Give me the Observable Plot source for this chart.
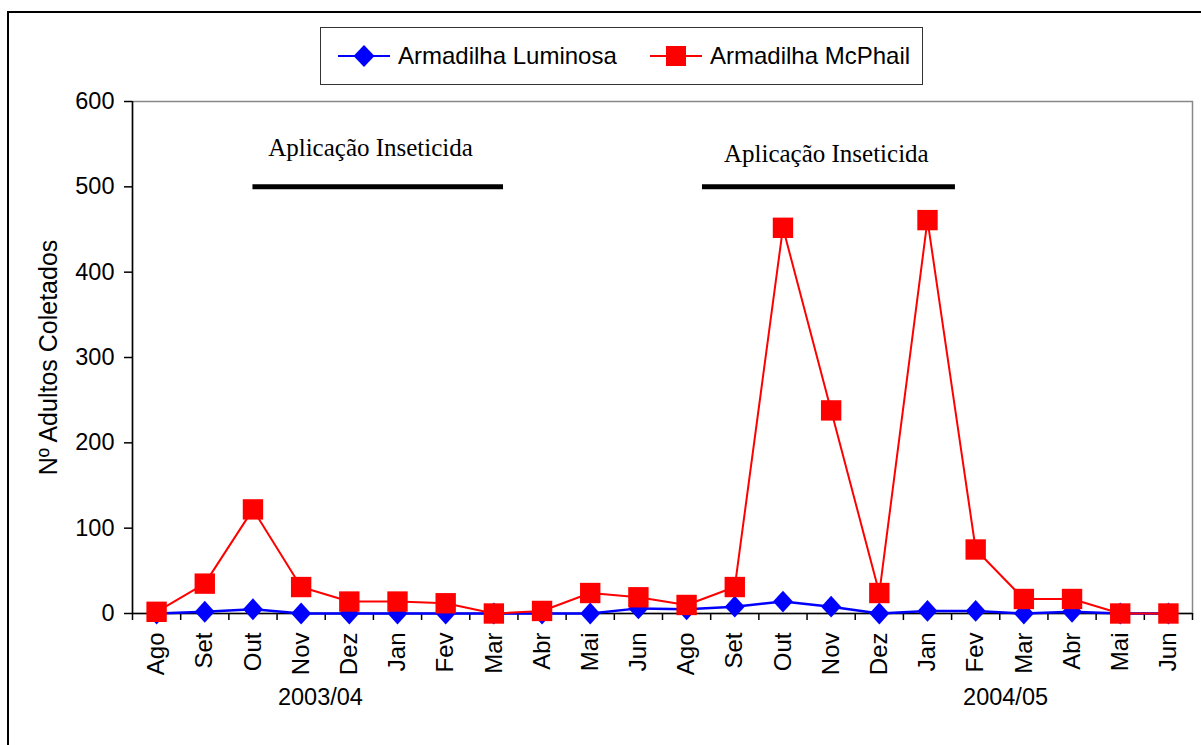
<!DOCTYPE html>
<html>
<head>
<meta charset="utf-8">
<script src="https://cdn.jsdelivr.net/npm/d3@7"></script>
<script src="https://cdn.jsdelivr.net/npm/@observablehq/plot@0.6"></script>
<style>
  html, body { margin: 0; padding: 0; background: #fff; }
  #wrap { position: relative; width: 1201px; height: 745px; overflow: hidden; background: #fff; }
  #border { position: absolute; left: 7px; top: 11px; width: 1400px; height: 900px; border: 2px solid #000; box-sizing: border-box; }
  #chart { position: absolute; left: 0; top: 0; }
  #legend { position: absolute; left: 320px; top: 27px; width: 603px; height: 58px; border: 1.5px solid #333; box-sizing: border-box; background: #fff;
            font-family: 'Liberation Sans', Arial, sans-serif; font-size: 24px; color: #000; }
  .item { position: absolute; top: 0; height: 100%; display: flex; align-items: center; }
  .item svg { display: block; }
  .item span { margin-left: 8px; white-space: nowrap; }
</style>
</head>
<body>
<div id="wrap">
  <div id="border"></div>
  <div id="chart"></div>
  <div id="legend"></div>
</div>
<script>
// ---- data ----
const months = ["Ago","Set","Out","Nov","Dez","Jan","Fev","Mar","Abr","Mai","Jun",
                "Ago","Set","Out","Nov","Dez","Jan","Fev","Mar","Abr","Mai","Jun"];
const luminosa = [0, 2, 5, 0, 0, 0, 0, 0, 0, 0, 6,
                  5, 8, 14, 8, 0, 3, 3, 0, 2, 0, 0];
const mcphail  = [2, 35, 122, 31, 14, 14, 12, 0, 3, 24, 19,
                  10, 31, 452, 238, 24, 461, 75, 17, 17, 0, 0];
const seriesNames = ["Armadilha Luminosa", "Armadilha McPhail"];
const yTicks = [0, 100, 200, 300, 400, 500, 600];
const seasonLabels = ["2003/04", "2004/05"];
const seasonAt = [3.4, 17.62];
const applicationLabel = "Aplicação Inseticida";
const applicationStart = [2.0, 11.33];
const applicationEnd = [7.2, 16.58];
const applicationLevel = [500, 500];
const applicationTextAt = [4.44, 13.9];
const applicationTextLevel = [545, 538];
const yLabel = "Nº Adultos Coletados";

// ---- derived tables ----
const lumData = months.map((m, i) => ({i, v: luminosa[i]}));
const mcpData = months.map((m, i) => ({i, v: mcphail[i]}));
const centers = months.map((m, i) => i);
const bounds = d3.range(-0.5, months.length, 1);
const seasons = seasonLabels.map((l, k) => ({label: l, at: seasonAt[k]}));
const applications = applicationStart.map((s, k) => ({
  start: s, end: applicationEnd[k], level: applicationLevel[k],
  textAt: applicationTextAt[k], textLevel: applicationTextLevel[k], label: applicationLabel
}));

const diamond = {
  draw(ctx, size) {
    const r = Math.sqrt(size / Math.PI);
    ctx.moveTo(0, -1.15 * r);
    ctx.lineTo(1.05 * r, 0);
    ctx.lineTo(0, 1.15 * r);
    ctx.lineTo(-1.05 * r, 0);
    ctx.closePath();
  }
};

const sans = "'Liberation Sans', Arial, sans-serif";
const serif = "'Liberation Serif', 'Times New Roman', serif";

const chart = Plot.plot({
  width: 1201,
  height: 745,
  marginLeft: 132,
  marginRight: 9,
  marginTop: 101,
  marginBottom: 132,
  style: {fontFamily: sans, fontSize: "24px", color: "#000", background: "transparent", overflow: "visible"},
  x: {type: "linear", domain: [-0.5, months.length - 0.5], label: null},
  y: {domain: [0, 600], label: null},
  marks: [
    Plot.frame({stroke: "#888", strokeWidth: 1.5}),
    Plot.axisY({ticks: yTicks, tickSize: 8, tickPadding: 10, fontSize: 23.5, strokeWidth: 1.5, label: null}),
    Plot.axisX({ticks: bounds, tickSize: 7, tickFormat: () => "", strokeWidth: 1.5, label: null}),
    Plot.axisX({ticks: centers, tickSize: 0, tickPadding: 19, tickRotate: -90, tickFormat: (d) => months[d], fontSize: 24, label: null}),
    Plot.ruleX([-0.5], {stroke: "#000", strokeWidth: 1.5}),
    Plot.ruleY([0], {stroke: "#000", strokeWidth: 1.5}),
    Plot.line(lumData, {x: "i", y: "v", stroke: "#0000ff", strokeWidth: 2.5}),
    Plot.dot(lumData, {x: "i", y: "v", symbol: diamond, r: 9.5, fill: "#0000ff", stroke: "none"}),
    Plot.line(mcpData, {x: "i", y: "v", stroke: "#ff0000", strokeWidth: 2}),
    Plot.dot(mcpData, {x: "i", y: "v", symbol: "square", r: 11.5, fill: "#ff0000", stroke: "none"}),
    Plot.ruleY(applications, {x1: "start", x2: "end", y: "level", stroke: "#000", strokeWidth: 5}),
    Plot.text(applications, {x: "textAt", y: "textLevel", text: "label", fontFamily: serif, fontSize: 25, fill: "#000"}),
    Plot.text(seasons, {x: "at", text: "label", frameAnchor: "bottom", dy: 91.5, fontSize: 23.5, fill: "#000"}),
    Plot.text([yLabel], {text: (d) => d, frameAnchor: "left", textAnchor: "middle", dx: -84, rotate: -90, fontSize: 25, fill: "#000"})
  ]
});
document.getElementById("chart").appendChild(chart);

// ---- legend ----
const legend = document.getElementById("legend");
const colors = ["#0000ff", "#ff0000"];
const lefts = [17, 329];
seriesNames.forEach((name, k) => {
  const item = document.createElement("div");
  item.className = "item";
  item.style.left = lefts[k] + "px";
  const marker = k === 0
    ? `<path d="M26,-11 L36.5,0 L26,11 L15.5,0 Z" transform="translate(0,14)" fill="${colors[k]}"/>`
    : `<rect x="16" y="4" width="20" height="20" fill="${colors[k]}"/>`;
  item.innerHTML = `<svg width="52" height="28" viewBox="0 0 52 28">
      <line x1="0" y1="14" x2="52" y2="14" stroke="${colors[k]}" stroke-width="2"/>${marker}</svg><span>${name}</span>`;
  legend.appendChild(item);
});
</script>
</body>
</html>
